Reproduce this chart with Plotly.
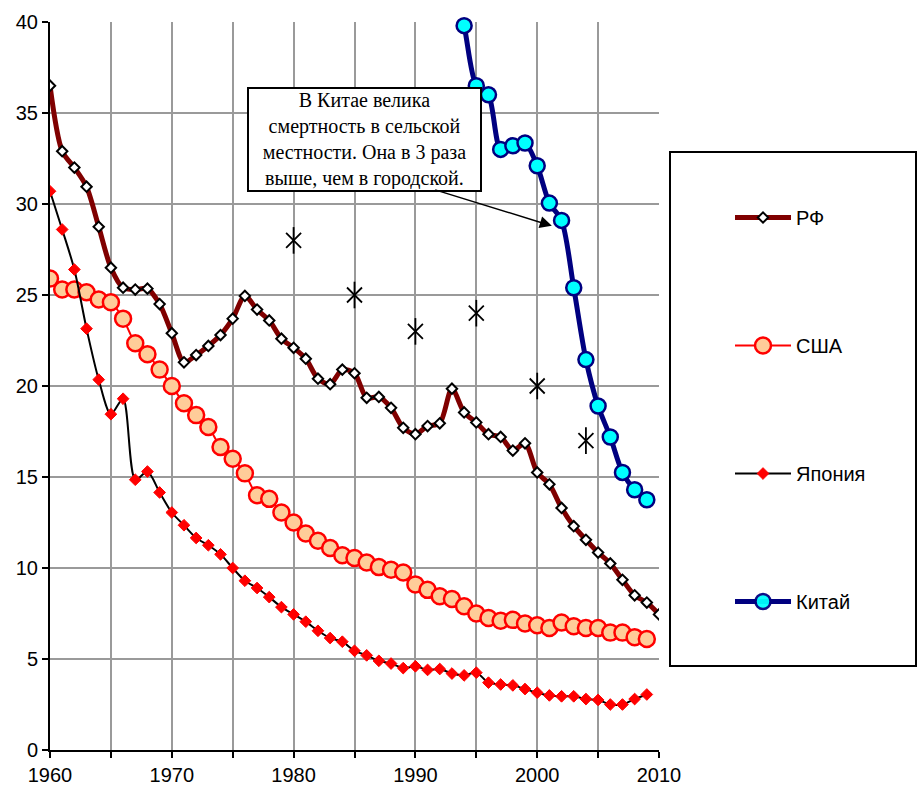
import plotly.graph_objects as go

# ---- data ----
years_rf = list(range(1960, 2011))
rf = [36.5, 32.9, 32.0, 30.95, 28.75, 26.5, 25.4, 25.3, 25.35, 24.5,
      22.9, 21.3, 21.7, 22.2, 22.8, 23.7, 24.95, 24.2, 23.6, 22.6,
      22.1, 21.5, 20.4, 20.1, 20.9, 20.7, 19.35, 19.4, 18.8, 17.7,
      17.35, 17.8, 17.95, 19.85, 18.55, 18.0, 17.35, 17.2, 16.45, 16.85,
      15.25, 14.6, 13.3, 12.3, 11.55, 10.85, 10.25, 9.35, 8.5, 8.1,
      7.45]

years_usa = list(range(1960, 2010))
usa = [25.9, 25.3, 25.3, 25.15, 24.75, 24.6, 23.7, 22.35, 21.75, 20.9,
       20.0, 19.05, 18.4, 17.75, 16.65, 16.0, 15.2, 14.0, 13.8, 13.05,
       12.5, 11.9, 11.5, 11.1, 10.7, 10.55, 10.3, 10.05, 9.9, 9.75,
       9.1, 8.8, 8.45, 8.3, 7.9, 7.5, 7.25, 7.1, 7.15, 6.95,
       6.85, 6.7, 7.0, 6.8, 6.7, 6.7, 6.45, 6.45, 6.2, 6.1]

years_jp = list(range(1960, 2010))
japan = [30.7, 28.6, 26.4, 23.15, 20.35, 18.45, 19.3, 14.85, 15.3, 14.15,
         13.05, 12.35, 11.65, 11.25, 10.75, 10.0, 9.3, 8.9, 8.4, 7.85,
         7.45, 7.05, 6.55, 6.15, 5.95, 5.45, 5.2, 4.9, 4.75, 4.5,
         4.6, 4.4, 4.45, 4.2, 4.1, 4.25, 3.7, 3.6, 3.55, 3.35,
         3.15, 3.0, 2.95, 2.95, 2.8, 2.75, 2.5, 2.5, 2.8, 3.05]

years_cn = list(range(1993, 2010))
china = [42.5, 39.8, 36.5, 36.0, 33.0, 33.2, 33.35, 32.1, 30.05, 29.1,
         25.4, 21.45, 18.9, 17.2, 15.25, 14.3, 13.75]

years_star = [1980, 1985, 1990, 1995, 2000, 2004]
stars = [28, 25, 23, 24, 20, 17]

x_ticks = list(range(1960, 2011, 5))
x_labels = [str(v) if v % 10 == 0 else "" for v in x_ticks]
y_ticks = list(range(0, 41, 5))

note = "В Китае велика<br>смертность в сельской<br>местности. Она в 3 раза<br>выше, чем в городской."

# ---- figure ----
fig = go.Figure()

fig.add_trace(go.Scatter(
    x=years_rf, y=rf, name="РФ", mode="lines+markers",
    line=dict(color="#800000", width=5, shape="spline", smoothing=0.8),
    marker=dict(symbol="diamond", size=8, color="white",
                line=dict(color="black", width=2)),
    legendgroup="a"))

fig.add_trace(go.Scatter(
    x=years_usa, y=usa, name="США", mode="lines+markers",
    line=dict(color="#FF0000", width=2, shape="spline", smoothing=0.8),
    marker=dict(symbol="circle", size=16, color="#FFCC99",
                line=dict(color="#FF0000", width=2.5)),
    legendgroup="b"))

fig.add_trace(go.Scatter(
    x=years_jp, y=japan, name="Япония", mode="lines+markers",
    line=dict(color="black", width=2, shape="spline", smoothing=0.8),
    marker=dict(symbol="diamond", size=9, color="#FF0000",
                line=dict(color="#FF0000", width=1)),
    legendgroup="c"))

fig.add_trace(go.Scatter(
    x=years_cn, y=china, name="Китай", mode="lines+markers",
    line=dict(color="#000080", width=5, shape="spline", smoothing=0.8),
    marker=dict(symbol="circle", size=15, color="#00FFFF",
                opacity=[0] + [1] * (len(years_cn) - 1),
                line=dict(color="#000080", width=2.5)),
    cliponaxis=False,
    legendgroup="d"))

fig.add_trace(go.Scatter(
    x=years_star, y=stars, mode="markers", showlegend=False,
    marker=dict(symbol="x-thin-open", size=15, color="black",
                line=dict(color="black", width=1.8))))
fig.add_trace(go.Scatter(
    x=years_star, y=stars, mode="markers", showlegend=False,
    marker=dict(symbol="line-ns-open", size=19, color="black",
                line=dict(color="black", width=1.8))))

fig.update_xaxes(
    range=[1960, 2010], tickvals=x_ticks, ticktext=x_labels,
    showgrid=True, gridcolor="#9a9a9a", gridwidth=2,
    showline=True, linecolor="black", linewidth=2,
    ticks="outside", ticklen=6, tickwidth=2, tickcolor="black",
    tickfont=dict(family="Liberation Sans Narrow, Liberation Sans, Arial",
                  size=20, color="black"),
    automargin=False, zeroline=False, mirror=False)

fig.update_yaxes(
    range=[0, 40], tickvals=y_ticks,
    showgrid=True, gridcolor="#9a9a9a", gridwidth=2,
    showline=True, linecolor="black", linewidth=2,
    ticks="outside", ticklen=6, tickwidth=2, tickcolor="black",
    tickfont=dict(family="Liberation Sans, Arial", size=20, color="black"),
    automargin=False, zeroline=False)

# note box
fig.add_annotation(
    xref="paper", yref="paper",
    x=(364.5 - 50) / 609, y=(750 - 139.5) / 728,
    xanchor="center", yanchor="middle",
    text=note, showarrow=False, align="center",
    font=dict(family="Liberation Serif, Times New Roman", size=20, color="black"),
    bgcolor="white", bordercolor="black", borderwidth=2,
    width=229, height=99, borderpad=1)

# arrow
fig.add_annotation(
    x=2001.2, y=28.8, ax=1991.5, ay=30.8, xref="x", yref="y",
    axref="x", ayref="y", text="", showarrow=True,
    arrowhead=2, arrowsize=1.6, arrowwidth=1.5, arrowcolor="black")

# legend frame
fig.add_shape(type="rect", xref="paper", yref="paper",
              x0=(670 - 50) / 609, x1=(916 - 50) / 609,
              y0=(750 - 666) / 728, y1=(750 - 152) / 728,
              line=dict(color="black", width=2), fillcolor="rgba(0,0,0,0)")

fig.update_layout(
    width=918, height=786,
    margin=dict(l=50, r=259, t=22, b=36),
    paper_bgcolor="white", plot_bgcolor="white",
    showlegend=True,
    legend=dict(x=(730 - 50) / 609, y=(750 - 198) / 728,
                xanchor="left", yanchor="top",
                traceorder="grouped", tracegroupgap=99,
                itemwidth=56, bgcolor="rgba(0,0,0,0)", borderwidth=0,
                font=dict(family="Liberation Sans, Arial", size=20, color="black")),
)

fig.write_html(
    "out.html",
    config={"displayModeBar": False},
    post_script="document.body.style.margin='0';document.body.style.overflow='hidden';")
